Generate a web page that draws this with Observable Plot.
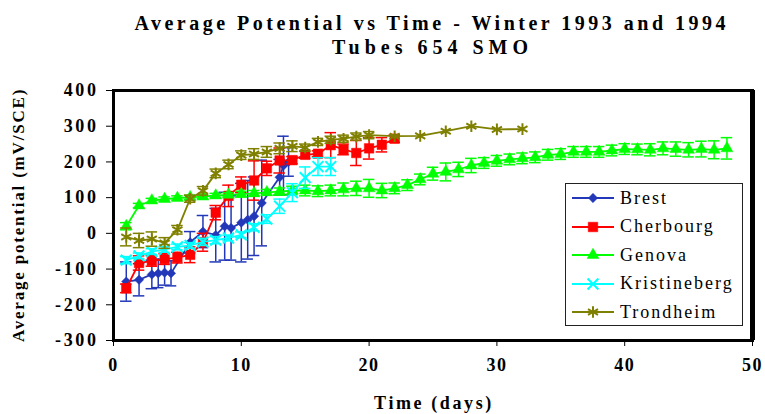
<!DOCTYPE html>
<html><head><meta charset="utf-8">
<script src="https://cdn.jsdelivr.net/npm/d3@7"></script>
<script src="https://cdn.jsdelivr.net/npm/@observablehq/plot@0.6"></script>
<style>
body{margin:0;background:#fff;font:18px 'Liberation Serif';}
#wrap{position:relative;width:765px;height:414px;overflow:hidden;background:#fff}
.tl{position:absolute;left:0;width:860px;text-align:center;font:bold 20px 'Liberation Serif';line-height:24px;color:#000;white-space:nowrap}
#t1{top:11px;letter-spacing:3.5px;text-indent:3.5px}
#t2{top:35px;letter-spacing:5px;text-indent:5px}
#chart{position:absolute;left:0;top:60px}
#chart svg g[aria-label="y-axis tick label"] text{letter-spacing:2.6px}
#chart svg g[aria-label="x-axis tick label"] text{letter-spacing:1.5px}
#ylab{position:absolute;left:19px;top:215px;transform:translate(-50%,-50%) rotate(-90deg);white-space:nowrap;font:bold 17px 'Liberation Serif';letter-spacing:1.8px}
#xlab{position:absolute;left:434px;top:403px;transform:translate(-50%,-50%);white-space:nowrap;font:bold 18px 'Liberation Serif';letter-spacing:2.6px}
#legend{position:absolute;left:565px;top:183px;width:176px;height:141px;border:1px solid #222;background:#fff}
.row{position:absolute;left:0;height:24px;display:flex;align-items:center}
.row span{font:18px 'Liberation Serif';letter-spacing:2px;margin-left:4px}
</style></head>
<body>
<div id="wrap">
  <div class="tl" id="t1">Average Potential vs Time - Winter 1993 and 1994</div>
  <div class="tl" id="t2">Tubes 654 SMO</div>
  <div id="chart"></div>
  <div id="ylab">Average potential (mV/SCE)</div>
  <div id="xlab">Time (days)</div>
  <div id="legend"></div>
</div>
<script>
// ---- data ----
const xTicks = [0, 10, 20, 30, 40, 50];
const yTicks = [-300, -200, -100, 0, 100, 200, 300, 400];

const brestDays = [1, 2, 3, 3.5, 4, 4.5, 6, 7, 8, 8.7, 9.2, 10, 10.5, 11, 11.6, 13, 13.3, 13.7];
const brestMean = [-135, -130, -115, -112, -110, -112, -25, 5, -5, 20, 15, 30, 38, 48, 85, 157, 190, 200];
const brestErr  = [55, 45, 40, 40, 35, 35, 30, 45, 75, 95, 90, 110, 110, 110, 120, 50, 82, 40];

const cherDays = [1,2,3,4,5,6,7,8,9,10,11,12,13,14,15,16,17,18,19,20,21,22];
const cherMean = [-154,-83,-77,-72,-68,-60,-25,58,105,136,148,182,204,205,220,223,247,235,225,238,248,265];
const cherErr  = [12,20,15,15,15,22,25,20,30,22,55,20,35,10,10,8,35,15,35,30,20,10];

const genDays = [1,2,3,4,5,6,7,8,9,10,11,12,13,14,15,16,17,18,19,20,21,22,23,24,25,26,27,28,29,30,31,32,33,34,35,36,37,38,39,40,41,42,43,44,45,46,47,48];
const genMean = [20,78,92,96,99,101,103,106,108,110,112,115,117,120,120,118,120,123,126,126,120,126,135,151,167,172,179,190,197,203,207,210,213,220,222,228,228,228,232,236,235,234,238,236,234,236,234,238];
const genErr  = [10,6,6,6,6,6,6,6,6,8,8,8,10,12,15,15,15,18,20,25,20,15,15,15,18,25,20,20,15,15,15,15,15,15,15,15,15,15,15,15,15,17,18,20,20,22,25,30];

const kriDays = [1,2,3,4,5,6,7,8,9,10,11,12,13,14,15,16,17];
const kriMean = [-75,-63,-51,-45,-38,-34,-24,-19,-13,-4,17,40,76,114,156,187,187];
const kriErr  = [10,8,8,8,8,8,10,10,8,8,10,12,20,25,30,25,25];

const troDays = [1,2,3,4,5,6,7,8,9,10,11,12,13,14,15,16,17,18,19,20,22,24,26,28,30,32];
const troMean = [-10,-20,-16,-27,10,97,119,168,193,219,222,228,238,244,240,256,262,265,271,275,272,273,286,300,291,292];
const troErr  = [25,20,20,15,12,10,12,12,12,12,15,15,15,15,10,10,10,10,10,10,0,0,0,0,0,0];

const seriesNames = ["Brest", "Cherbourg", "Genova", "Kristineberg", "Trondheim"];

// ---- styles ----
const styles = {
  Brest:        {color: "#2238B8", symbol: "diamond2", r: 4.2, filled: true},
  Cherbourg:    {color: "#FF0000", symbol: "square",   r: 5.4, filled: true},
  Genova:       {color: "#00FF00", symbol: "triangle", r: 4.4, filled: true},
  Kristineberg: {color: "#00FFFF", symbol: "times",    r: 5,   filled: false},
  Trondheim:    {color: "#808000", symbol: "asterisk", r: 5.5, filled: false}
};
const sources = {
  Brest: [brestDays, brestMean, brestErr],
  Cherbourg: [cherDays, cherMean, cherErr],
  Genova: [genDays, genMean, genErr],
  Kristineberg: [kriDays, kriMean, kriErr],
  Trondheim: [troDays, troMean, troErr]
};

const marks = [
  Plot.axisY({ticks: yTicks, tickSize: 7, tickPadding: 8, label: null, tickFormat: d => String(d)}),
  Plot.axisX({ticks: xTicks, tickSize: 6, tickPadding: 12, label: null, tickFormat: d => String(d)})
];
for (const name of seriesNames) {
  const [days, mean, err] = sources[name];
  const st = styles[name];
  const rows = days.map((d, i) => ({day: d, v: mean[i], e: err[i]}));
  const eb = rows.filter(d => d.e > 0);
  marks.push(
    Plot.ruleX(eb, {x: "day", y1: d => d.v - d.e, y2: d => d.v + d.e, stroke: st.color, strokeWidth: 1.5}),
    Plot.ruleY(eb, {y: d => d.v + d.e, x1: d => d.day - 0.45, x2: d => d.day + 0.45, stroke: st.color, strokeWidth: 1.5}),
    Plot.ruleY(eb, {y: d => d.v - d.e, x1: d => d.day - 0.45, x2: d => d.day + 0.45, stroke: st.color, strokeWidth: 1.5}),
    Plot.line(rows, {x: "day", y: "v", stroke: st.color, strokeWidth: 1.8}),
    st.filled
      ? Plot.dot(rows, {x: "day", y: "v", symbol: st.symbol, r: st.r, fill: st.color, stroke: st.color, strokeWidth: 0.5})
      : Plot.dot(rows, {x: "day", y: "v", symbol: st.symbol, r: st.r, stroke: st.color, strokeWidth: 2})
  );
}
marks.push(Plot.frame({stroke: "#000", strokeWidth: 3}));
marks.push(Plot.ruleX([50], {stroke: "#000", strokeWidth: 5}));

const chart = Plot.plot({
  width: 765, height: 354,
  marginTop: 30, marginBottom: 74, marginLeft: 113, marginRight: 13,
  x: {domain: [0, 50]},
  y: {domain: [-300, 400]},
  style: {fontFamily: "Liberation Serif", fontSize: "18px", fontWeight: "bold", color: "#000", background: "#fff"},
  marks
});
document.getElementById("chart").appendChild(chart);

// ---- legend ----
const legend = document.getElementById("legend");
const symMap = {diamond2: d3.symbolDiamond2, square: d3.symbolSquare, triangle: d3.symbolTriangle, times: d3.symbolTimes, asterisk: d3.symbolAsterisk};
seriesNames.forEach((name, i) => {
  const st = styles[name];
  const row = document.createElement("div");
  row.className = "row";
  row.style.top = (2 + i * 28.5) + "px";
  const svg = d3.create("svg").attr("width", 50).attr("height", 24);
  svg.append("line").attr("x1", 6).attr("x2", 48).attr("y1", 12).attr("y2", 12)
    .attr("stroke", st.color).attr("stroke-width", 1.8);
  const p = svg.append("path").attr("transform", "translate(27,12)")
    .attr("d", d3.symbol(symMap[st.symbol], Math.PI * st.r * st.r)());
  if (st.filled) p.attr("fill", st.color).attr("stroke", st.color).attr("stroke-width", 0.5);
  else p.attr("fill", "none").attr("stroke", st.color).attr("stroke-width", 2);
  row.appendChild(svg.node());
  const span = document.createElement("span");
  span.textContent = name;
  row.appendChild(span);
  legend.appendChild(row);
});
</script>
</body></html>
